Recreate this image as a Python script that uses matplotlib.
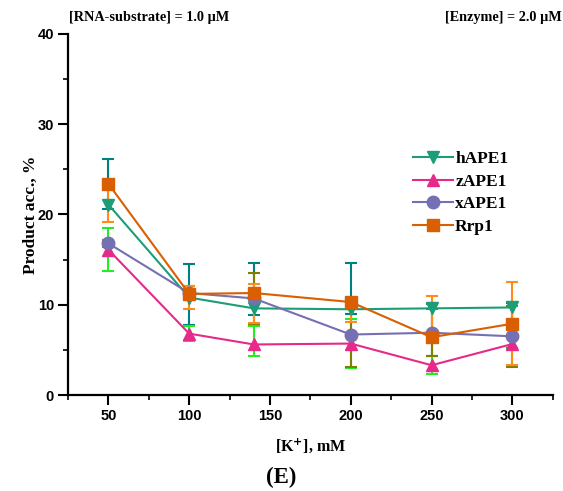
import matplotlib
matplotlib.use("Agg")
import matplotlib.pyplot as plt
from matplotlib.ticker import MultipleLocator
import numpy as np

k_conc = [50, 100, 140, 200, 250, 300]

hape1 = [21.1, 10.8, 9.6, 9.5, 9.6, 9.7]
hape1_lo = [0.5, 3.0, 0.7, 0.5, 5.3, 4.5]
hape1_hi = [5.0, 3.7, 5.05, 5.1, 0.5, 0.5]

zape1 = [16.1, 6.8, 5.6, 5.7, 3.3, 5.65]
zape1_lo = [2.4, 0.8, 1.3, 2.75, 1.0, 0.5]
zape1_hi = [2.4, 0.85, 2.05, 2.75, 1.0, 2.6]

xape1 = [16.8, 11.3, 10.7, 6.7, 6.9, 6.5]
xape1_lo = [0.4, 0.8, 2.85, 3.6, 2.6, 3.35]
xape1_hi = [0.4, 0.8, 2.85, 3.6, 2.6, 3.35]

rrp1 = [23.4, 11.2, 11.3, 10.3, 6.4, 7.9]
rrp1_lo = [4.2, 1.7, 3.3, 2.2, 0.5, 4.6]
rrp1_hi = [0.3, 0.9, 0.95, 0.5, 4.6, 4.6]

series = [
    ("hAPE1", hape1, hape1_lo, hape1_hi, "#1b9e77", "#008080", "v"),
    ("zAPE1", zape1, zape1_lo, zape1_hi, "#e7298a", "#22ee22", "^"),
    ("xAPE1", xape1, xape1_lo, xape1_hi, "#7570b3", "#808000", "o"),
    ("Rrp1", rrp1, rrp1_lo, rrp1_hi, "#d95f02", "#ff8c1a", "s"),
]

serif = ["Liberation Serif", "DejaVu Serif"]
sans = ["Liberation Sans", "DejaVu Sans"]

fig = plt.figure(figsize=(5.63, 4.91), dpi=100)
ax = fig.add_axes([0.1208, 0.1955, 0.861, 0.7353])

# draw error bars first, then lines/markers on top
for name, y, lo, hi, col, ecol, mk in series:
    ax.errorbar(k_conc, y, yerr=[lo, hi], fmt="none", ecolor=ecol,
                elinewidth=1.5, capsize=4, capthick=1.5, zorder=2)
for name, y, lo, hi, col, ecol, mk in series:
    ax.plot(k_conc, y, color=col, marker=mk, markersize=9, linewidth=1.5,
            label=name, zorder=3)

ax.set_xlim(25, 325)
ax.set_ylim(0, 40)
ax.xaxis.set_major_locator(MultipleLocator(50))
ax.xaxis.set_minor_locator(MultipleLocator(25))
ax.yaxis.set_major_locator(MultipleLocator(10))
ax.yaxis.set_minor_locator(MultipleLocator(5))

for s in ["top", "right"]:
    ax.spines[s].set_visible(False)
for s in ["left", "bottom"]:
    ax.spines[s].set_linewidth(1.6)

ax.tick_params(which="major", direction="out", length=7, width=1.5, pad=3)
ax.tick_params(which="minor", direction="out", length=3.5, width=1.2)
ax.set_xticks([50, 100, 150, 200, 250, 300])
for lab in ax.get_xticklabels() + ax.get_yticklabels():
    lab.set_fontfamily(sans)
    lab.set_fontweight("bold")
    lab.set_fontsize(10.5)

ax.set_ylabel("Product acc., %", fontfamily=serif, fontweight="bold",
              fontsize=12.5, labelpad=-1)
ax.set_xlabel(r"[K$^{\mathbf{+}}$], mM", fontfamily=serif, fontweight="bold",
              fontsize=11.5, labelpad=10)

fig.text(0.123, 0.965, "[RNA-substrate] = 1.0 \u03bcM", fontfamily=serif,
         fontweight="bold", fontsize=10.3, ha="left", va="center")
fig.text(0.997, 0.965, "[Enzyme] = 2.0 \u03bcM", fontfamily=serif,
         fontweight="bold", fontsize=10.3, ha="right", va="center")
fig.text(0.5, 0.027, "(E)", fontfamily=serif, fontweight="bold",
         fontsize=16.5, ha="center", va="center")

leg = ax.legend(loc="upper left", bbox_to_anchor=(0.711, 0.675), frameon=False,
                prop={"family": serif, "weight": "bold", "size": 12.5},
                handlelength=2.3, handletextpad=0.15, labelspacing=0.36,
                borderaxespad=0, borderpad=0)

fig.savefig("out.png", dpi=100, facecolor="white")
